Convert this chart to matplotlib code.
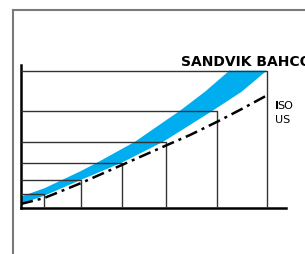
import matplotlib
matplotlib.use("Agg")
import matplotlib.pyplot as plt
from matplotlib.lines import Line2D

# box sizes (width, height) in chart units
box_w = [23.6, 60.3, 101.6, 145.3, 196.6, 246.0]
box_h = [13.2, 27.2, 44.8, 65.8, 96.8, 136.8]

# blue band (Sandvik Bahco) upper and lower edges
band_up_x = [0, 23.6, 59.3, 76.3, 114.3, 144.3, 159.3, 184.3, 208.6]
band_up_y = [10.8, 19.2, 36.0, 44.8, 65.8, 86.5, 96.8, 115.8, 136.8]
band_lo_x = [0, 23.6, 59.3, 101.0, 142.6, 192.0, 221.0, 246.0]
band_lo_y = [3.5, 11.8, 27.2, 44.8, 65.8, 96.8, 115.8, 136.8]

# ISO / US dash-dot curve
iso_x = [0, 23.6, 59.3, 101.6, 145.3, 169.3, 196.6, 221.0, 246.0]
iso_y = [3.5, 9.5, 24.0, 42.7, 62.0, 72.5, 85.8, 98.5, 112.0]

W, H = 305, 254
fig = plt.figure(figsize=(W / 100, H / 100), dpi=100)
fig.patch.set_facecolor("white")

# outer gray frame (left and top)
fig.add_artist(Line2D([13 / W, 13 / W], [0, 1 - 10 / H], color="#7a7a7a", lw=1.5,
                      transform=fig.transFigure))
fig.add_artist(Line2D([13 / W, 1], [1 - 10 / H, 1 - 10 / H], color="#7a7a7a", lw=1.5,
                      transform=fig.transFigure))

left, right = 20.7 / W, 286 / W
bottom, top = 1 - 207.5 / H, 1 - 65 / H
ax = fig.add_axes([left, bottom, right - left, top - bottom])
ax.set_xlim(0, 265.3)
ax.set_ylim(0, 142.5)
ax.set_facecolor("none")
for s in ["top", "right"]:
    ax.spines[s].set_visible(False)
for s in ["left", "bottom"]:
    ax.spines[s].set_linewidth(1.8)
    ax.spines[s].set_color("black")
ax.set_xticks([])
ax.set_yticks([])

# blue band
poly_x = band_up_x + band_lo_x[::-1]
poly_y = band_up_y + band_lo_y[::-1]
ax.fill(poly_x, poly_y, color="#00aeef", lw=0, zorder=2)

# boxes
for w, h in zip(box_w, box_h):
    ax.plot([0, w, w], [h, h, 0], color="#333333", lw=1.0, zorder=3,
            solid_capstyle="butt")

# dash-dot curve
ax.plot(iso_x, iso_y, color="black", lw=1.8, zorder=4,
        dashes=(5, 2, 1.2, 2))

fig.text(181 / W, 1 - 65.5 / H, "SANDVIK BAHCO", fontsize=10, fontweight="bold",
         ha="left", va="baseline", color="black")
fig.text(275 / W, 1 - 109 / H, "I", fontsize=8, fontweight="bold",
         ha="left", va="baseline", color="black")
fig.text(277.5 / W, 1 - 109 / H, "SO", fontsize=8,
         ha="left", va="baseline", color="black")
fig.text(275 / W, 1 - 123 / H, "US", fontsize=8,
         ha="left", va="baseline", color="black")

fig.savefig("out.png", dpi=100)
